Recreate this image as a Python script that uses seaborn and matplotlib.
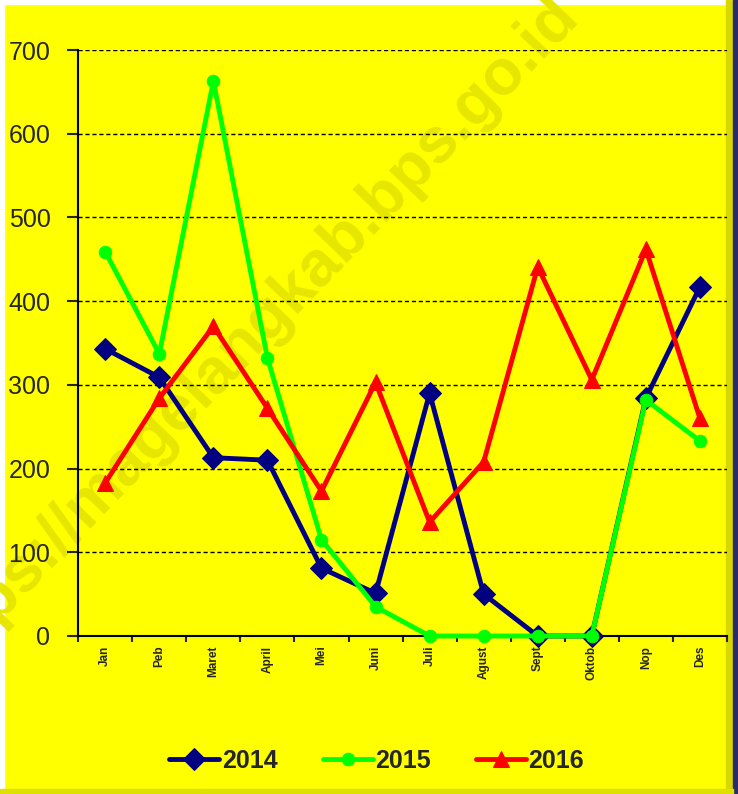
import numpy as np
import pandas as pd
import matplotlib
matplotlib.use('Agg')
import matplotlib.pyplot as plt
import seaborn as sns
from matplotlib.patches import Rectangle

# Data
months = ['Jan', 'Peb', 'Maret', 'April', 'Mei', 'Juni', 'Juli', 'Agust', 'Sept', 'Oktob', 'Nop', 'Des']
v2014 = [343, 309, 213, 210, 81, 51, 290, 50, 0, 0, 284, 417]
v2015 = [459, 337, 663, 332, 115, 35, 0, 0, 0, 0, 282, 233]
v2016 = [183, 284, 370, 272, 173, 303, 136, 208, 441, 306, 462, 260]
years = ['2014', '2015', '2016']

df = pd.DataFrame({
    'idx': list(range(len(months))) * 3,
    'value': v2014 + v2015 + v2016,
    'year': [y for y in years for _ in months],
})

sns.set_style('white')
plt.rcParams['font.family'] = ['Liberation Sans', 'DejaVu Sans']

yellow = '#FFFF00'
fig = plt.figure(figsize=(7.38, 7.94), dpi=100, facecolor=yellow)
ax = fig.add_axes([0.106, 0.199, 0.879, 0.738])
ax.set_facecolor('none')

# frame edges
fig.patches.append(Rectangle((0, 0), 0.005, 1, transform=fig.transFigure, color='white', zorder=-1))
fig.patches.append(Rectangle((0, 0.995), 1, 0.005, transform=fig.transFigure, color='white', zorder=-1))
fig.patches.append(Rectangle((0.984, 0), 0.009, 1, transform=fig.transFigure, color='#D8D800', zorder=-1))
fig.patches.append(Rectangle((0.993, 0), 0.007, 1, transform=fig.transFigure, color='#2B2B6B', zorder=-1))
fig.patches.append(Rectangle((0, 0.0), 0.993, 0.006, transform=fig.transFigure, color='#E0E000', zorder=-1))

# watermark
ax.text(0.335, 0.575, 'https://magelangkab.bps.go.id', rotation=46, ha='center', va='center',
        fontsize=46, fontweight='bold', color='#E6E600', zorder=0.5, family='Liberation Sans',
        transform=fig.transFigure, clip_on=False)

palette = {'2014': '#000080', '2015': '#00FF00', '2016': '#FF0000'}
markers = {'2014': 'D', '2015': 'o', '2016': '^'}
sizes = {'2014': 11, '2015': 9, '2016': 12}

for y in years:
    sub = df[df['year'] == y]
    sns.lineplot(data=sub, x='idx', y='value', ax=ax, color=palette[y], marker=markers[y],
                 markersize=sizes[y], markeredgecolor=palette[y], linewidth=3.5, label=y,
                 zorder=3, clip_on=False)

ax.set_xlim(-0.5, len(months) - 0.5)
ax.set_ylim(0, 700)
ax.set_yticks(range(0, 701, 100))
ax.tick_params(axis='y', labelsize=18, length=8, width=1.5, direction='out', left=True, pad=12)
ax.set_xticks(range(len(months)))
ax.set_xticklabels(months, rotation=90, fontsize=8.5, fontweight='bold')
ax.tick_params(axis='x', which='major', length=0, pad=7)
ax.set_xticks(np.arange(-0.5, len(months), 1), minor=True)
ax.tick_params(axis='x', which='minor', length=4, width=1.5, direction='out', bottom=True)
ax.set_xlabel('')
ax.set_ylabel('')

for v in range(100, 701, 100):
    ax.axhline(v, color='black', linestyle=(0, (3, 2)), linewidth=1, zorder=1)

for s in ['top', 'right']:
    ax.spines[s].set_visible(False)
for s in ['left', 'bottom']:
    ax.spines[s].set_color('black')
    ax.spines[s].set_linewidth(1.5)

leg = ax.legend(loc='center', bbox_to_anchor=(0.46, -0.213), ncol=3, frameon=False,
                prop={'size': 18, 'weight': 'bold'}, handlelength=2.0, columnspacing=1.8,
                handletextpad=0.1)

fig.savefig('out.png', dpi=100, facecolor=yellow)
